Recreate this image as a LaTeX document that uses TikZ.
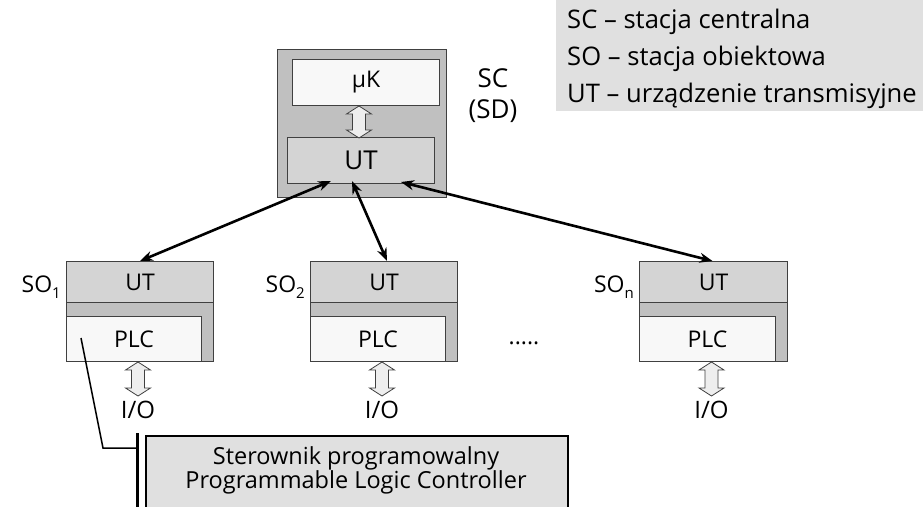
\documentclass[tikz,border=0pt]{standalone}
\usepackage{fontspec}
\setmainfont{Open Sans}
\usetikzlibrary{arrows.meta,calc}
\definecolor{frameg}{HTML}{C0C0C0}
\definecolor{utg}{HTML}{D4D4D4}
\definecolor{paneg}{HTML}{F8F8F8}
\definecolor{noteg}{HTML}{E0E0E0}
\definecolor{edgeg}{HTML}{404040}
\definecolor{hollowg}{HTML}{EEEEEE}
\newcommand\lowix[1]{\raisebox{-0.5ex}{\fontsize{15}{15}\selectfont #1}}
\tikzset{
  box/.style={draw=edgeg, line width=1pt, anchor=north west, inner sep=0pt},
  frame/.style={box, fill=frameg},
  utbox/.style={box, fill=utg, font=\fontsize{23}{27}\selectfont},
  pane/.style={box, fill=paneg, font=\fontsize{23}{27}\selectfont},
  link/.style={line width=2.6pt, {Stealth[length=13pt,width=10pt]}-{Stealth[length=13pt,width=10pt]}},
  lbl/.style={font=\fontsize{23}{27}\selectfont, inner sep=0pt},
  legendtxt/.style={font=\fontsize{25.6}{29}\selectfont, inner sep=0pt, anchor=base west},
  notetxt/.style={font=\fontsize{23.5}{27}\selectfont, inner sep=0pt, anchor=base},
  pics/iohollow/.style={code={
    \draw[fill=hollowg, draw=edgeg, line width=0.8pt]
      (0,0) -- (12.5,8) -- (6.5,8) -- (6.5,{#1-8}) -- (12.5,{#1-8}) -- (0,#1)
      -- (-12.5,{#1-8}) -- (-6.5,{#1-8}) -- (-6.5,8) -- (-12.5,8) -- cycle;
  }}
}
\begin{document}
\begin{tikzpicture}[x=1pt,y=-1pt]
\useasboundingbox (0,0) rectangle (923,506);

% legend
\fill[noteg] (556,0) rectangle (923,111);
\node[legendtxt] (lg1) at (567,28) {SC – stacja centralna};
\node[legendtxt] (lg2) at (567,65) {SO – stacja obiektowa};
\node[legendtxt] (lg3) at (567,102) {UT – urządzenie transmisyjne};

% central station
\node[frame, minimum width=169, minimum height=148] (sc) at (277,49) {};
\node[pane, minimum width=147, minimum height=46] (mk) at (292,59) {µK};
\node[utbox, minimum width=147, minimum height=46, font=\fontsize{26}{30}\selectfont] (ut0) at (287,137) {UT};
\pic at ($(mk.south -| ut0.north)+(-2,0)$) {iohollow=32};
\node[lbl, font=\fontsize{26}{30}\selectfont, anchor=base] (sclbl) at (493,87) {SC};
\node[lbl, font=\fontsize{26}{30}\selectfont, anchor=base] (sdlbl) at (493,118) {(SD)};

% object stations
\foreach \n/\x/\w in {1/66/147, 2/310/147, n/639/148}{
  \node[frame, minimum width=\w, minimum height=100] (so\n) at (\x,261) {};
  \node[utbox, minimum width=\w, minimum height=41] (so\n ut) at (\x,261) {UT};
  \node[pane, minimum width=\w-12, minimum height=45] (so\n plc) at (\x,316) {PLC};
  \node[lbl, anchor=base east] (so\n lbl) at ($(\x,292)+(-5,0)$) {SO\lowix{\n}};
  \pic at ([xshift=-2pt]so\n.south) {iohollow=34};
  \node[lbl, font=\fontsize{24}{28}\selectfont, anchor=base] (io\n) at ($(so\n.south)+(-2,56)$) {I/O};
}
\node[lbl] (dots) at (524,343) {.....};

% links between transmission units
\draw[link] ([xshift=-30pt,yshift=3pt]ut0.south) -- (so1ut.north);
\draw[link] ([xshift=-9pt,yshift=3pt]ut0.south) -- ([xshift=3pt]so2ut.north);
\draw[link] ([xshift=40pt,yshift=2pt]ut0.south) -- ([xshift=-1pt]sonut.north);

% callout for the PLC
\node[draw=black, line width=2pt, fill=noteg, anchor=north west,
      minimum width=422, minimum height=100, inner sep=0pt] (note) at (145,435) {};
\node[notetxt] (note1) at (356,464) {Sterownik programowalny};
\node[notetxt] (note2) at (356,488) {Programmable Logic Controller};
\coordinate (cstart) at ($(so1plc.north west)+(15,22)$);
\coordinate (cbend) at (103,448);
\coordinate (cbar) at ($(note.north west)+(-8,13)$);
\draw[line width=1.5pt] (cstart) -- (cbend) -- (cbar);
\draw[line width=3pt] ($(note.north west)+(-8,-2)$) -- ($(note.north west)+(-8,80)$);
\end{tikzpicture}
\end{document}
